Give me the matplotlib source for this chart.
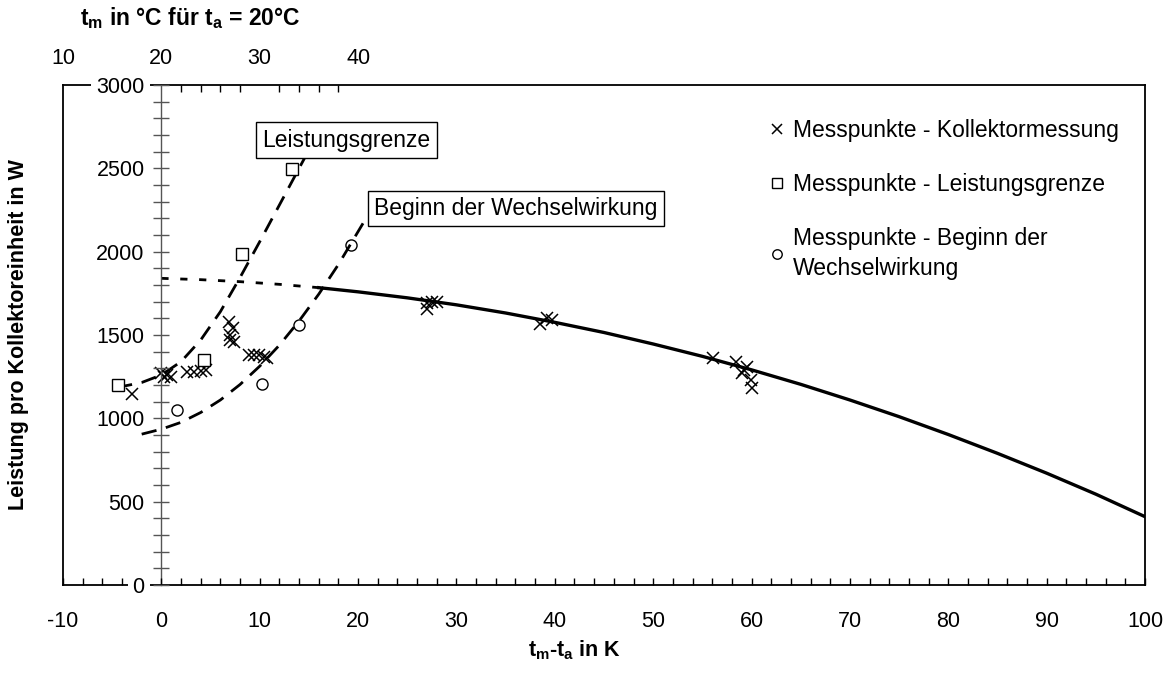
import matplotlib
matplotlib.use('Agg')
import matplotlib.pyplot as plt
from matplotlib.ticker import MultipleLocator, FixedLocator
import numpy as np

plt.rcParams['font.family'] = ['Liberation Sans', 'DejaVu Sans']
plt.rcParams['mathtext.fontset'] = 'custom'
plt.rcParams['mathtext.rm'] = 'Liberation Sans'
plt.rcParams['mathtext.bf'] = 'Liberation Sans:bold'
plt.rcParams['mathtext.it'] = 'Liberation Sans:italic'
plt.rcParams['axes.unicode_minus'] = False

# ---- data ----
# Measured points: Kollektormessung (crosses)
x_km = [-3.0, 0.0, 0.3, 0.6, 1.0, 2.6, 3.3, 4.0, 4.5, 6.85, 7.25, 7.0, 6.95, 7.35,
        8.9, 9.4, 9.9, 10.4, 10.7, 27.0, 27.0, 27.5, 28.0, 38.5, 39.2, 39.7,
        56.1, 58.4, 59.0, 59.2, 59.5, 59.9, 60.0]
y_km = [1146, 1270, 1250, 1262, 1250, 1280, 1280, 1285, 1290, 1580, 1540, 1500, 1470, 1460,
        1380, 1380, 1380, 1370, 1360, 1695, 1655, 1700, 1700, 1566, 1600, 1590,
        1360, 1340, 1270, 1290, 1310, 1230, 1180]
# Measured points: Leistungsgrenze (squares)
x_lg_pts = [-4.4, 4.3, 8.2, 13.3]
y_lg_pts = [1200, 1350, 1984, 2495]
# Measured points: Beginn der Wechselwirkung (circles)
x_bw_pts = [1.6, 10.2, 14.0, 19.3]
y_bw_pts = [1050, 1204, 1560, 2040]

# Collector curve: dotted extrapolation and solid part
x_dot = [0, 4, 8, 12, 16]
y_dot = [1840, 1832, 1820, 1804, 1784]
x_fit = [16, 20, 25, 30, 35, 40, 45, 50, 55, 60, 65, 70, 75, 80, 85, 90, 95, 100]
y_fit = [1784, 1759, 1723, 1681, 1632, 1576, 1515, 1446, 1372, 1291, 1204, 1110,
         1010, 903, 790, 671, 545, 410]
# Dashed trend curves
x_lg = [-4.5, -2.0, 0.0, 2.0, 4.0, 6.0, 8.0, 10.0, 12.0, 14.0, 15.0]
y_lg = [1185, 1215, 1260, 1340, 1470, 1640, 1845, 2060, 2280, 2500, 2610]
x_bw = [-2.0, 0.0, 2.0, 4.0, 6.0, 8.0, 10.0, 12.0, 14.0, 16.0, 18.0, 20.5]
y_bw = [905, 935, 976, 1035, 1110, 1203, 1313, 1439, 1584, 1745, 1923, 2170]

x_ticks_top = [10, 20, 30, 40]

W, H = 1169, 675
fig = plt.figure(figsize=(W / 100, H / 100), dpi=100)
L, R, T, B = 63, 1145, 85, 585
ax = fig.add_axes([L / W, 1 - B / H, (R - L) / W, (B - T) / H])
ax.set_xlim(-10, 100)
ax.set_ylim(0, 3000)
ax.set_axisbelow(False)

# curves
ax.plot(x_dot, y_dot, color='black', lw=2.0, ls=(0, (2.6, 4.2)), solid_capstyle='butt')
ax.plot(x_fit, y_fit, color='black', lw=2.4)
ax.plot(x_lg, y_lg, color='black', lw=2.0, ls=(0, (5.5, 3.5)))
ax.plot(x_bw, y_bw, color='black', lw=2.0, ls=(0, (5.5, 3.5)), zorder=3)

# points
h1, = ax.plot(x_km, y_km, ls='none', marker='x', color='black', ms=8, mew=1.1,
              label='Messpunkte - Kollektormessung')
h2, = ax.plot(x_lg_pts, y_lg_pts, ls='none', marker='s', mfc='white', mec='black', ms=9,
              mew=1.0, label='Messpunkte - Leistungsgrenze')
h3, = ax.plot(x_bw_pts, y_bw_pts, ls='none', marker='o', mfc='white', mec='black', ms=8,
              mew=1.0, label='Messpunkte - Beginn der\nWechselwirkung')

# annotation boxes
ax.text(10.26, 2670, 'Leistungsgrenze', fontsize=16.5, ha='left', va='center', zorder=5,
        bbox=dict(boxstyle='square,pad=0.28', fc='white', ec='black', lw=1.0))
ax.text(21.65, 2259, 'Beginn der Wechselwirkung', fontsize=16.5, ha='left', va='center', zorder=5,
        bbox=dict(boxstyle='square,pad=0.28', fc='white', ec='black', lw=1.0))

# frame & axes
for s in ['top', 'right', 'bottom']:
    ax.spines[s].set_color('black')
    ax.spines[s].set_linewidth(1.3)
ax.spines['left'].set_position(('data', 0))
ax.spines['left'].set_color('#555555')
ax.spines['left'].set_linewidth(1.0)
ax.axvline(-10, color='black', lw=1.3, clip_on=False)

ax.xaxis.set_major_locator(MultipleLocator(10))
ax.xaxis.set_minor_locator(MultipleLocator(2))
ax.tick_params(axis='x', which='both', direction='in', length=5, width=1, top=False,
               labelsize=15.5, pad=19)
ax.yaxis.set_major_locator(MultipleLocator(500))
ax.yaxis.set_minor_locator(MultipleLocator(100))
ax.tick_params(axis='y', which='both', direction='inout', length=12, width=1,
               color='#555555', labelsize=15.5, pad=6, right=False)

sec = ax.secondary_xaxis('top', functions=(lambda x: x + 20, lambda x: x - 20))
sec.set_xticks(x_ticks_top)
sec.xaxis.set_minor_locator(FixedLocator(np.arange(20, 41, 2)))
sec.tick_params(which='major', length=0, pad=11.5, labelsize=15.5)
sec.tick_params(which='minor', direction='in', length=5, width=1)
sec.spines['top'].set_visible(False)

ax.set_xlabel(r'$\mathbf{t}_\mathbf{m}$-$\mathbf{t}_\mathbf{a}$ in K', fontsize=15.5, fontweight='bold')
ax.xaxis.set_label_coords((575 - L) / (R - L), -(650 - B) / (B - T), transform=ax.transAxes)
ax.xaxis.label.set_va('center')
ax.set_ylabel('Leistung pro Kollektoreinheit in W', fontsize=15.5, fontweight='bold')
ax.yaxis.set_label_coords((19 - L) / (R - L), 0.5)
ax.yaxis.label.set_va('center')

fig.text(80 / W, 1 - 18 / H, r'$\mathbf{t}_\mathbf{m}$ in °C für $\mathbf{t}_\mathbf{a}$ = 20°C',
         fontsize=16.5, fontweight='bold', ha='left', va='center')

leg = ax.legend(handles=[h1, h2, h3], loc='upper left',
                bbox_to_anchor=((768 - L) / (R - L), (B - 119) / (B - T)),
                frameon=False, fontsize=16.5, handlelength=0.8, handletextpad=0.3,
                labelspacing=1.35, borderpad=0, borderaxespad=0, markerscale=0.85)
for t in leg.get_texts():
    t.set_linespacing(1.4)

fig.canvas.draw()
for lbl in ax.get_yticklabels():
    lbl.set_bbox(dict(fc='white', ec='none', pad=3.5))

fig.savefig('out.png', dpi=100)
